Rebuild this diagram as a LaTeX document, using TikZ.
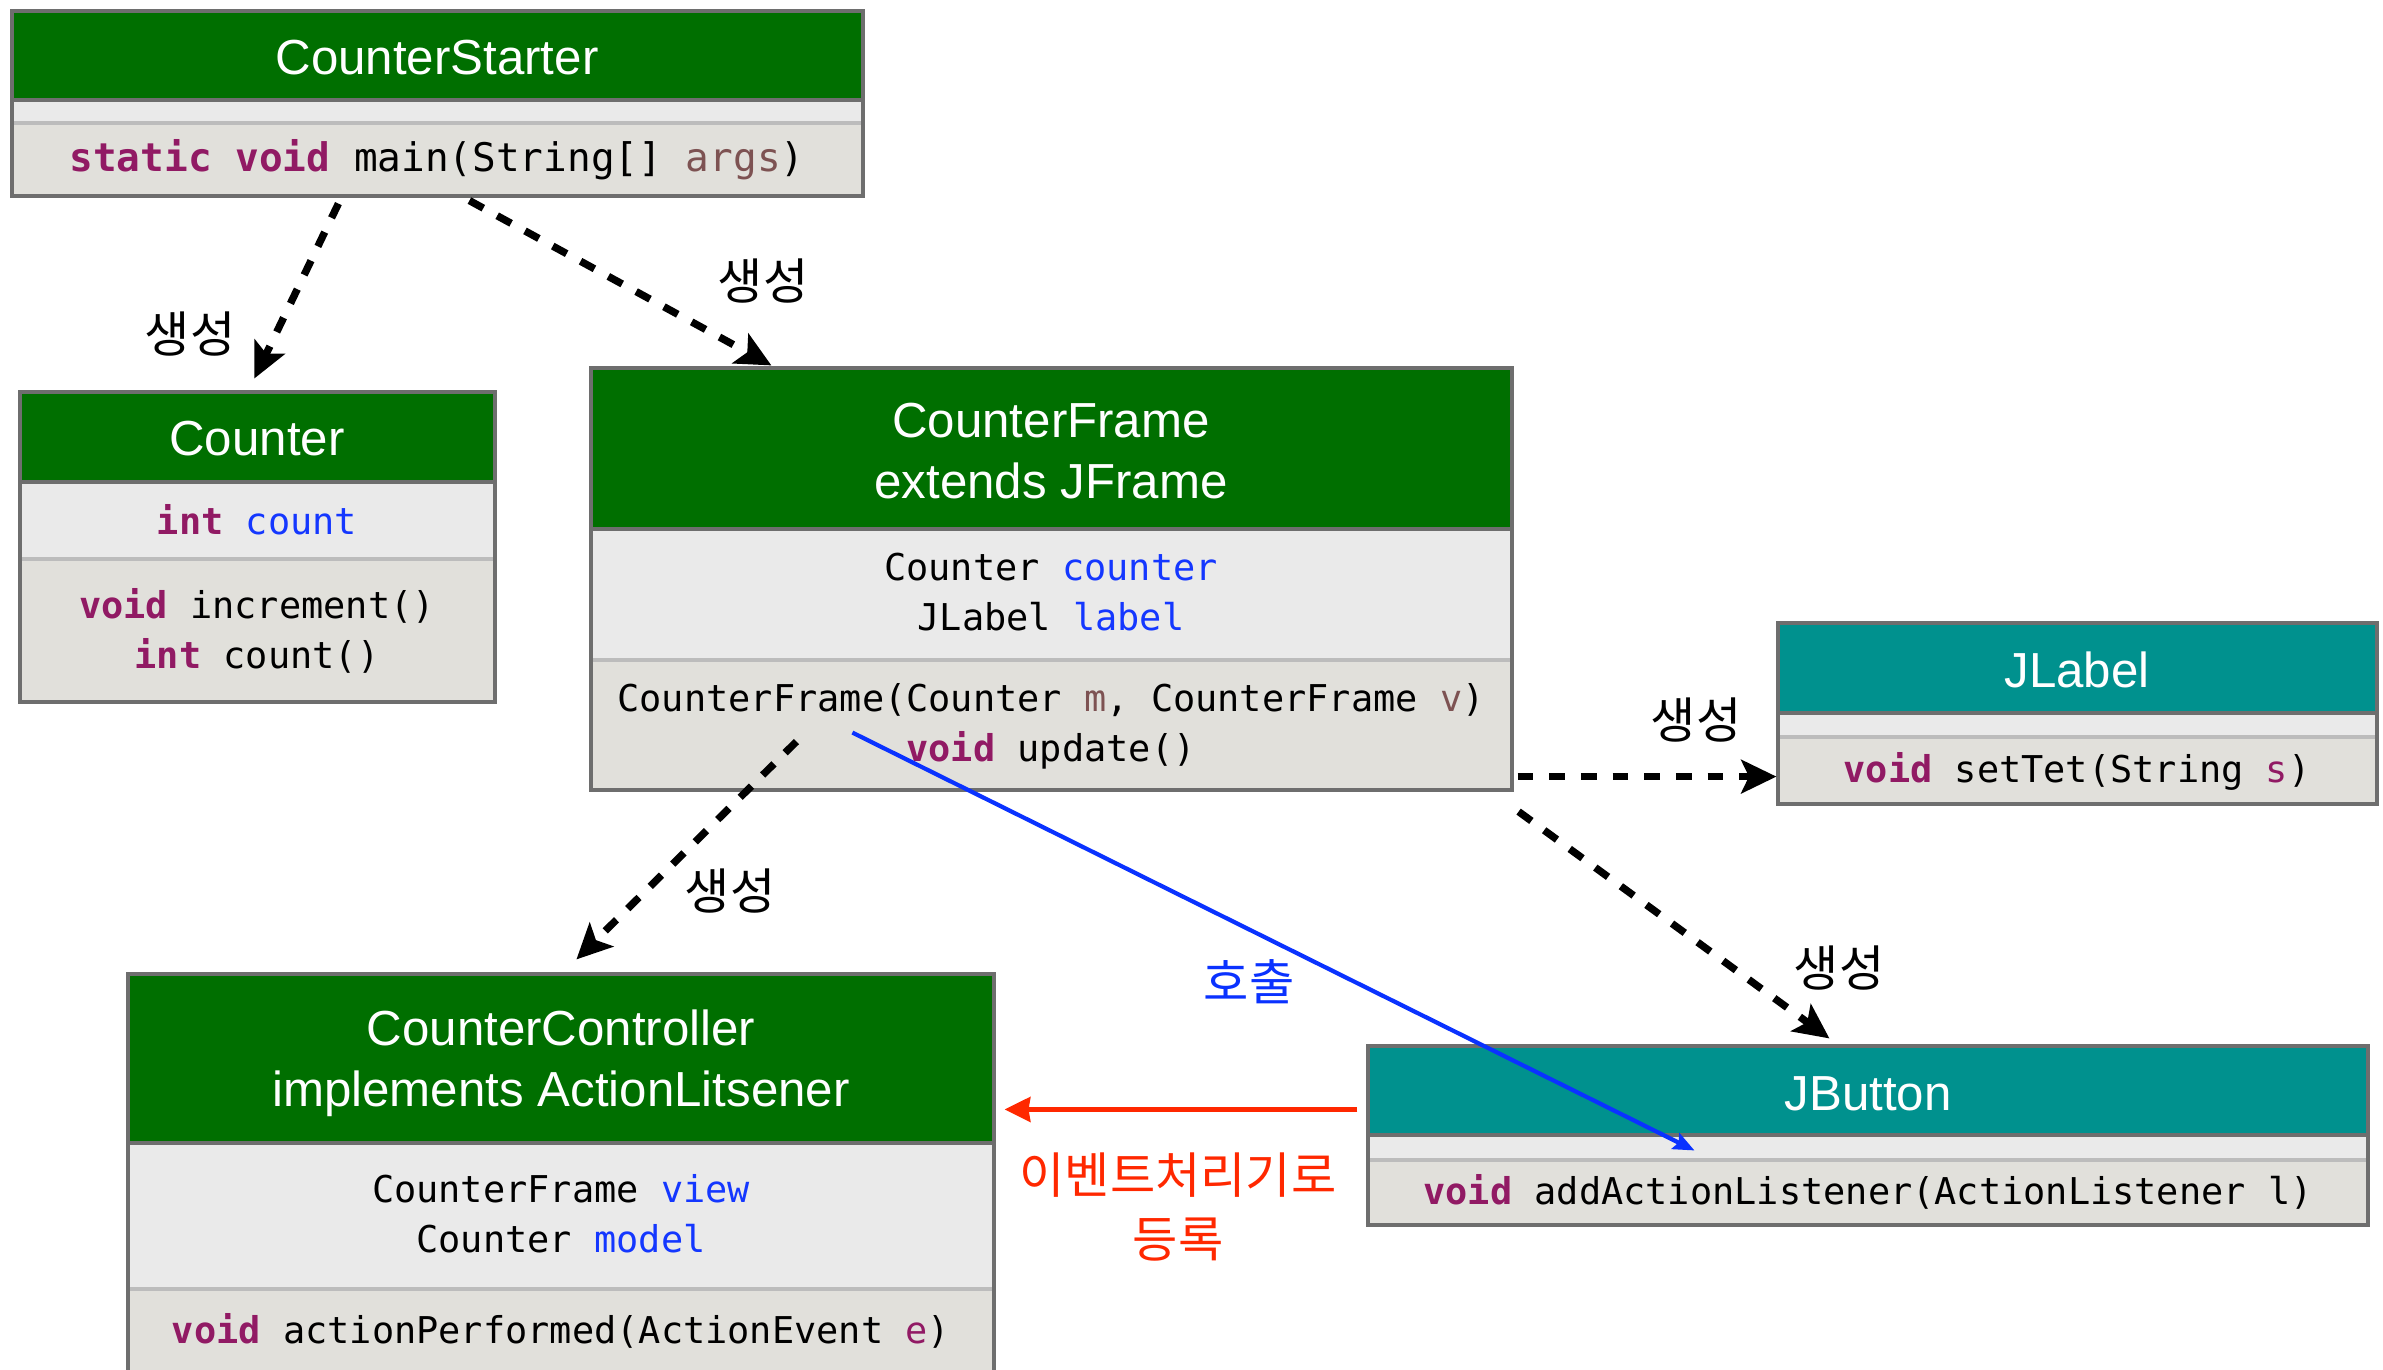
\documentclass[tikz,border=0pt]{standalone}
\usepackage{fontspec}
\usetikzlibrary{arrows.meta,calc,fit}
\newfontfamily\hfont{Liberation Sans}
\newfontfamily\mono{DejaVu Sans Mono}
\newfontfamily\kr{Noto Sans CJK KR}
\definecolor{hdrgreen}{RGB}{0,111,0}
\definecolor{hdrteal}{RGB}{0,145,142}
\definecolor{attrbg}{RGB}{234,234,234}
\definecolor{methbg}{RGB}{225,224,219}
\definecolor{boxline}{RGB}{110,110,110}
\definecolor{sepgray}{RGB}{188,188,188}
\definecolor{kw}{RGB}{145,26,100}
\definecolor{var}{RGB}{20,55,255}
\definecolor{par}{RGB}{125,82,82}
\definecolor{callblue}{RGB}{10,50,255}
\definecolor{regred}{RGB}{255,40,0}
\newcommand\kwd[1]{\textcolor{kw}{\bfseries #1}}
\newcommand\fld[1]{\textcolor{var}{#1}}
\newcommand\prm[1]{\textcolor{par}{#1}}
\newcommand\prmk[1]{\textcolor{kw}{#1}}
% class box: name, x1, y1, x2, y2, header bottom, attribute bottom, header colour
\newcommand\classbox[8]{%
  \fill[#8] (#2,#3) rectangle (#4,#6);
  \fill[attrbg] (#2,#6) rectangle (#4,#7);
  \fill[methbg] (#2,#7) rectangle (#4,#5);
  \draw[sepgray, line width=0.9pt] (#2,#7) -- (#4,#7);
  \draw[boxline, line width=0.9pt] (#2,#6) -- (#4,#6);
  \node[fit={(#2,#3)(#4,#5)}, inner sep=0pt, draw=boxline, line width=0.9pt] (#1) {};
}
\begin{document}
\begin{tikzpicture}[x=0.01cm,y=-0.01cm,
  hdr/.style={text=white, font=\hfont\fontsize{14}{17.3}\selectfont, align=center, inner sep=0pt},
  code/.style={font=\mono\fontsize{10.5}{14.2}\selectfont, align=center, inner sep=0pt},
  lbl/.style={font=\kr\fontsize{14}{18.1}\selectfont, align=center, inner sep=0pt},
  create/.style={line width=2.1pt, dash pattern=on 4.5pt off 4.5pt,
    -{Stealth[length=10pt,width=9.5pt,inset=2.2pt]}},
  call/.style={callblue, line width=1.2pt, -{Stealth[length=6pt,width=5pt,inset=1pt]}},
  register/.style={regred, line width=1.4pt, -{Stealth[length=7.3pt,width=7pt,inset=0.5pt]}}]
\useasboundingbox (0,0) rectangle (2383,1369);
\clip (0,0) rectangle (2383,1369);
\fill[white] (0,0) rectangle (2383,1369);

% classes
\classbox{starter}{12}{11}{863}{196}{100}{123}{hdrgreen}
\node[hdr] (starterT) at (437,58) {CounterStarter};
\node[code, font=\mono\fontsize{11.2}{14.2}\selectfont] (starterM) at (437,160)
  {\kwd{static} \kwd{void} main(String[] \prm{args})};

\classbox{counter}{20}{392}{495}{702}{482}{559}{hdrgreen}
\node[hdr] (counterT) at (257,439) {Counter};
\node[code] (counterA) at (257,520) {\kwd{int} \fld{count}};
\node[code] (counterM) at (257,631) {\kwd{void} increment()\\\kwd{int} count()};

\classbox{frame}{591}{368}{1512}{790}{529}{660}{hdrgreen}
\node[hdr] (frameT) at (1051,451) {CounterFrame\\extends JFrame};
\node[code] (frameA) at (1051,592) {Counter \fld{counter}\\JLabel \fld{label}};
\node[code] (frameM) at (1051,726)
  {CounterFrame(Counter \prm{m}, CounterFrame \prm{v})\\\kwd{void} update()};

\classbox{jlabel}{1778}{623}{2377}{804}{713}{737}{hdrteal}
\node[hdr] (jlabelT) at (2077,670) {JLabel};
\node[code] (jlabelM) at (2077,771) {\kwd{void} setTet(String \prmk{s})};

\classbox{ctrl}{128}{974}{994}{1420}{1143}{1289}{hdrgreen}
\node[hdr] (ctrlT) at (561,1063) {CounterController\\implements ActionLitsener};
\node[code] (ctrlA) at (561,1214) {CounterFrame \fld{view}\\Counter \fld{model}};
\node[code] (ctrlM) at (561,1331) {\kwd{void} actionPerformed(ActionEvent \prmk{e})};

\classbox{jbutton}{1368}{1046}{2368}{1225}{1135}{1160}{hdrteal}
\node[hdr] (jbuttonT) at (1868,1094) {JButton};
\node[code] (jbuttonM) at (1868,1192) {\kwd{void} addActionListener(ActionListener l)};

% creation arrows
\draw[create] ($(starter.south west)+(328,6)$) -- ($(counter.north west)+(236,-12)$);
\draw[create] ($(starter.south west)+(459,3)$) -- ($(frame.north west)+(182,-1)$);
\draw[create] ($(frame.south west)+(207,-50)$) -- ($(ctrl.north west)+(450,-13)$);
\draw[create] ($(frame.south east)+(4,-15)$) -- ($(jlabel.south west)+(0,-29)$);
\draw[create] ($(frame.south east)+(5,20)$) -- ($(jbutton.north west)+(463,-6)$);

\node[lbl] (c1) at (190,334) {생성};
\node[lbl] (c2) at (763,281) {생성};
\node[lbl] (c3) at (730,891) {생성};
\node[lbl] (c4) at (1696,720) {생성};
\node[lbl] (c5) at (1839,968) {생성};

% call and listener registration
\draw[call] ($(frame.south west)+(263,-59)$) -- ($(jbutton.north west)+(328,106)$);
\node[lbl, text=callblue] (callL) at (1249,982) {호출};
\draw[register] ($(jbutton.north west)+(-9,65)$) -- ($(ctrl.north east)+(9,137)$);
\node[lbl, text=regred] (regL) at (1178,1207) {이벤트처리기로\\등록};
\end{tikzpicture}
\end{document}
